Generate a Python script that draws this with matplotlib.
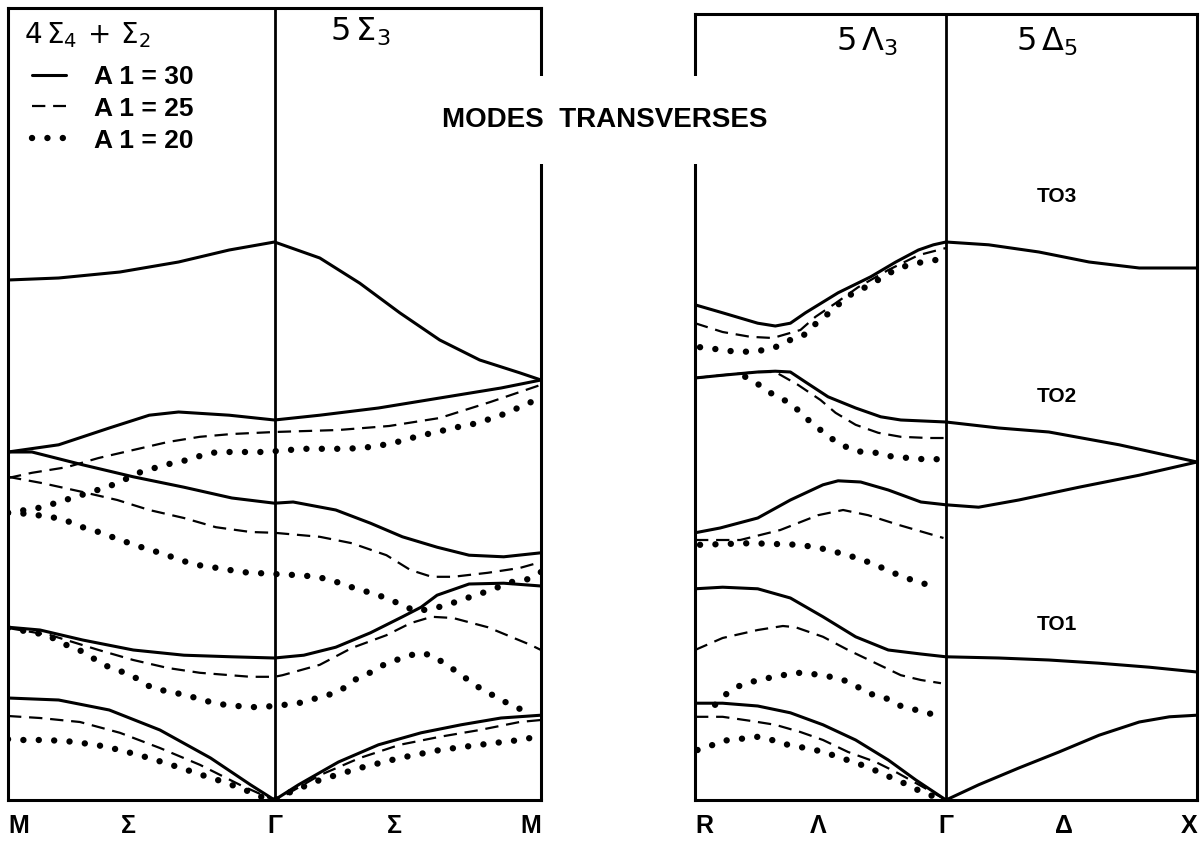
import matplotlib
matplotlib.use("Agg")
import matplotlib.pyplot as plt
from matplotlib.lines import Line2D

plt.rcParams['font.family'] = ['Liberation Sans', 'DejaVu Sans']

# frequency (arb. units) along the path, q = 0..1 first half, 1..2 second half
# ---- left panel : M - Sigma - Gamma - Sigma - M
sig_a30 = [
    ([0, .19, .42, .64, .83, 1.0, 1.17, 1.32, 1.47, 1.62, 1.77, 1.92, 2.0],
     [65.0, 65.25, 66.0, 67.25, 68.75, 69.75, 67.75, 64.6, 60.9, 57.5, 55.0, 53.4, 52.5]),
    ([0, .19, .38, .53, .64, .83, 1.0, 1.17, 1.39, 1.62, 1.85, 2.0],
     [43.5, 44.4, 46.5, 48.1, 48.5, 48.1, 47.5, 48.1, 49.0, 50.25, 51.5, 52.5]),
    ([0, .09, .28, .47, .66, .84, 1.0, 1.07, 1.23, 1.36, 1.48, 1.61, 1.73, 1.86, 2.0],
     [43.5, 43.5, 41.9, 40.4, 39.1, 37.75, 37.1, 37.25, 36.25, 34.6, 32.9, 31.6, 30.6, 30.4, 30.9]),
    ([0, .12, .28, .47, .66, .84, 1.0, 1.11, 1.23, 1.36, 1.48, 1.55, 1.61, 1.73, 1.86, 2.0],
     [21.6, 21.25, 20.0, 18.75, 18.1, 17.9, 17.75, 18.1, 19.1, 20.9, 22.9, 24.1, 25.6, 27.0, 27.1, 26.75]),
    ([0, .19, .38, .57, .76, .91, 1.0, 1.09, 1.24, 1.39, 1.55, 1.70, 1.85, 2.0],
     [12.75, 12.5, 11.25, 8.75, 5.25, 1.9, 0, 1.9, 4.75, 6.9, 8.4, 9.4, 10.25, 10.6]),
]
sig_a25 = [
    ([0, .09, .22, .34, .47, .60, .72, .84, 1.0, 1.24, 1.43, 1.62, 1.81, 2.0],
     [40.25, 40.9, 41.6, 42.75, 43.75, 44.75, 45.4, 45.75, 46.0, 46.25, 46.75, 47.75, 49.75, 51.9]),
    ([0, .13, .28, .41, .53, .66, .78, .91, 1.0, 1.17, 1.29, 1.42, 1.51, 1.59, 1.67, 1.80, 1.92, 2.0],
     [40.4, 39.6, 38.5, 37.5, 36.25, 35.25, 34.1, 33.5, 33.4, 32.9, 32.1, 30.6, 28.75, 27.9, 27.9, 28.4, 29.0, 29.75]),
    ([0, .16, .34, .47, .60, .72, .91, 1.0, 1.03, 1.17, 1.29, 1.42, 1.51, 1.59, 1.67, 1.80, 1.96, 2.0],
     [21.5, 20.6, 18.75, 17.5, 16.5, 15.9, 15.4, 15.4, 15.6, 16.9, 19.0, 20.6, 22.1, 22.9, 22.75, 21.6, 19.4, 18.75]),
    ([0, .12, .27, .42, .57, .72, .87, .98, 1.0, 1.04, 1.17, 1.32, 1.47, 1.62, 1.77, 1.92, 2.0],
     [10.5, 10.25, 9.75, 8.4, 6.5, 4.4, 1.9, 0.25, 0, 0.6, 3.1, 5.25, 6.9, 7.9, 8.75, 9.75, 10.0]),
]
sig_a20 = [
    ([0, .13, .19, .24, .36, .41, .49, .54, .59, .66, .72, .76, .83, .90, .96, 1.0,
      1.11, 1.26, 1.33, 1.41, 1.48, 1.54, 1.61, 1.67, 1.76, 1.85, 1.92, 1.98],
     [35.9, 36.6, 37.25, 37.75, 39.0, 39.6, 40.9, 41.4, 41.9, 42.4, 43.0, 43.4, 43.5, 43.5, 43.5, 43.6,
      43.9, 43.9, 44.0, 44.4, 44.9, 45.5, 46.0, 46.5, 47.1, 48.1, 49.1, 50.0]),
    ([0, .06, .16, .22, .28, .34, .43, .51, .57, .67, .73, .81, .87, .92, 1.0,
      1.09, 1.16, 1.22, 1.29, 1.36, 1.42, 1.47, 1.53, 1.59, 1.65, 1.70, 1.80, 1.89, 1.95, 2.0],
     [35.9, 35.8, 35.4, 34.9, 34.1, 33.5, 32.4, 31.5, 30.9, 29.75, 29.25, 28.9, 28.5, 28.4, 28.25,
      28.1, 27.9, 27.4, 26.6, 25.9, 25.25, 24.5, 23.6, 23.9, 24.4, 25.0, 26.1, 27.25, 27.6, 28.5]),
    ([0, .15, .20, .26, .31, .37, .43, .49, .54, .61, .67, .73, .79, .86, .93, 1.0,
      1.09, 1.16, 1.24, 1.30, 1.37, 1.42, 1.48, 1.54, 1.59, 1.66, 1.71, 1.77, 1.83, 1.88, 1.94],
     [21.5, 20.6, 19.6, 18.9, 17.9, 16.75, 16.0, 15.1, 14.0, 13.5, 13.1, 12.5, 12.0, 11.75, 11.6, 11.75,
      12.1, 12.75, 13.5, 15.0, 16.1, 17.1, 17.75, 18.4, 18.1, 16.6, 15.4, 14.0, 12.9, 12.0, 11.1]),
    ([0, .03, .12, .21, .33, .42, .53, .64, .73, .81, .89, .95, 1.0,
      1.06, 1.17, 1.32, 1.47, 1.62, 1.77, 1.92, 1.96],
     [7.6, 7.5, 7.5, 7.4, 6.9, 6.25, 5.25, 4.1, 3.1, 2.25, 1.25, 0.4, 0,
      1.0, 2.5, 4.0, 5.25, 6.25, 6.9, 7.5, 7.75]),
]

# ---- right panel : R - Lambda - Gamma - Delta - X
lam_a30 = [
    ([0, .11, .25, .32, .38, .44, .57, .70, .80, .89, .95, 1.0, 1.17, 1.37, 1.57, 1.77, 2.0],
     [61.9, 60.9, 59.6, 59.25, 59.6, 60.9, 63.4, 65.4, 67.25, 68.75, 69.4, 69.75, 69.4, 68.5, 67.25, 66.5, 66.5]),
    ([0, .11, .25, .32, .38, .44, .53, .64, .74, .82, 1.0, 1.21, 1.41, 1.69, 2.0],
     [52.75, 53.1, 53.5, 53.6, 53.5, 52.25, 50.4, 49.0, 47.9, 47.5, 47.25, 46.5, 46.0, 44.4, 42.25]),
    ([0, .10, .25, .38, .51, .57, .66, .77, .90, 1.0, 1.13, 1.29, 1.53, 1.77, 2.0],
     [33.4, 34.0, 35.25, 37.5, 39.4, 39.9, 39.75, 38.75, 37.25, 36.9, 36.6, 37.5, 39.1, 40.6, 42.25]),
    ([0, .11, .25, .38, .51, .64, .77, .90, 1.0, 1.21, 1.41, 1.61, 1.81, 2.0],
     [26.4, 26.6, 26.4, 25.25, 22.9, 20.4, 18.75, 18.25, 17.9, 17.75, 17.5, 17.1, 16.6, 16.0]),
    ([0, .11, .25, .38, .51, .64, .77, .88, 1.0, 1.13, 1.29, 1.45, 1.61, 1.77, 1.89, 2.0],
     [12.1, 12.1, 11.75, 10.9, 9.4, 7.5, 5.0, 2.5, 0, 1.9, 4.0, 6.0, 8.1, 9.75, 10.4, 10.6]),
]
lam_a25 = [
    ([0, .11, .22, .31, .42, .48, .56, .65, .77, .89, 1.0],
     [59.6, 58.5, 57.9, 57.75, 58.75, 60.4, 62.1, 64.1, 66.25, 68.1, 69.0]),
    ([0, .11, .25, .32, .41, .50, .56, .64, .73, .82, .93, 1.0],
     [52.75, 53.1, 53.5, 53.5, 51.9, 50.0, 48.4, 46.9, 45.9, 45.4, 45.25, 45.25]),
    ([0, .18, .34, .49, .59, .69, .81, .99],
     [32.5, 32.5, 33.75, 35.6, 36.25, 35.6, 34.4, 32.75]),
    ([0, .11, .25, .35, .40, .51, .61, .72, .82, .90, .98],
     [18.75, 20.25, 21.25, 21.75, 21.6, 20.4, 18.75, 17.1, 15.6, 15.0, 14.6]),
    ([0, .11, .22, .32, .42, .51, .61, .72, .80, .91, 1.0],
     [10.4, 10.4, 9.9, 9.4, 8.5, 7.5, 6.0, 4.75, 3.5, 1.6, 0]),
]
lam_a20 = [
    ([.02, .05, .11, .17, .25, .32, .37, .43, .47, .52, .57, .63, .69, .75, .81, .87, .93, .99],
     [56.6, 56.5, 56.25, 56.0, 56.1, 56.6, 57.4, 58.0, 59.25, 60.5, 61.9, 63.4, 64.25, 65.4, 66.5, 67.0, 67.4, 67.6]),
    ([.20, .25, .30, .37, .41, .46, .52, .57, .64, .72, .77, .85, .91, .98],
     [52.9, 52.0, 50.9, 49.75, 48.75, 47.25, 45.75, 44.6, 43.6, 43.4, 43.0, 42.75, 42.6, 42.6]),
    ([.02, .12, .22, .32, .42, .51, .61, .69, .74, .79, .84, .91, .96],
     [31.9, 32.0, 32.1, 32.0, 31.9, 31.4, 30.6, 29.75, 29.1, 28.4, 27.75, 27.1, 26.25]),
    ([.08, .13, .19, .27, .33, .41, .47, .54, .60, .65, .70, .75, .82, .90, .96],
     [11.9, 13.4, 14.5, 15.1, 15.5, 15.9, 15.75, 15.4, 14.9, 14.1, 13.25, 12.9, 11.75, 11.1, 10.6]),
    ([.01, .06, .11, .17, .25, .32, .37, .44, .50, .57, .63, .69, .76, .84, .91, .97],
     [6.25, 6.75, 7.4, 7.6, 7.9, 7.4, 6.9, 6.5, 6.1, 5.4, 4.75, 4.1, 3.1, 2.0, 0.9, 0.25]),
]

left_ticks = [0, 0.45, 1, 1.45, 2]
left_labels = ["M", "Σ", "Γ", "Σ", "M"]
right_ticks = [0, 0.49, 1, 1.47, 2]
right_labels = ["R", "Λ", "Γ", "Δ", "X"]
to_labels = ["TO3", "TO2", "TO1"]
to_freq = [75.5, 50.5, 22.0]
legend_labels = ["A 1 = 30", "A 1 = 25", "A 1 = 20"]

solid = dict(color="black", lw=2.2, ls="-", solid_capstyle="round", solid_joinstyle="round")
dashed = dict(color="black", lw=1.6, ls=(0, (6, 3.5)), dash_capstyle="butt")
dotted = dict(color="black", lw=4.6, ls=(0, (0.01, 2.4)), dash_capstyle="round")


def draw_panel(ax, s30, s25, s20, ymax, ticks, labels):
    for q, f in s30:
        ax.plot(q, f, **solid)
    for q, f in s25:
        ax.plot(q, f, **dashed)
    for q, f in s20:
        ax.plot(q, f, **dotted)
    ax.axvline(1.0, color="black", lw=2.0)
    ax.set_xlim(0, 2)
    ax.set_ylim(0, ymax)
    ax.set_yticks([])
    ax.set_xticks(ticks)
    ax.set_xticklabels(labels, fontsize=18, fontweight="bold")
    ax.tick_params(axis="x", length=0, pad=10)
    tl = ax.get_xticklabels()
    tl[0].set_ha("left")
    tl[-1].set_ha("right")
    for sp in ax.spines.values():
        sp.set_linewidth(2.2)


fig = plt.figure(figsize=(12.03, 8.43), dpi=100)
axl = fig.add_axes([8 / 1203, 43 / 843, 533 / 1203, 792 / 843])
axr = fig.add_axes([695 / 1203, 43 / 843, 502 / 1203, 786 / 843])

draw_panel(axl, sig_a30, sig_a25, sig_a20, 99.0, left_ticks, left_labels)
draw_panel(axr, lam_a30, lam_a25, lam_a20, 98.25, right_ticks, right_labels)

# branch titles
axl.text(0.03, 0.985, r"$4\,\Sigma_4\,+\,\Sigma_2$", transform=axl.transAxes,
         fontsize=20, va="top", ha="left")
axl.text(0.605, 0.99, r"$5\,\Sigma_3$", transform=axl.transAxes,
         fontsize=23, va="top", ha="left")
axr.text(0.28, 0.985, r"$5\,\Lambda_3$", transform=axr.transAxes,
         fontsize=23, va="top", ha="left")
axr.text(0.64, 0.985, r"$5\,\Delta_5$", transform=axr.transAxes,
         fontsize=23, va="top", ha="left")

for lab, f in zip(to_labels, to_freq):
    axr.text(1.44, f, lab, fontsize=15, fontweight="bold", ha="center", va="center")

handles = [Line2D([], [], **solid), Line2D([], [], **dashed), Line2D([], [], **dotted)]
leg = axl.legend(handles, legend_labels, loc="upper left", bbox_to_anchor=(0.02, 0.945),
                 frameon=False, handlelength=1.3, handletextpad=1.05, labelspacing=0.3,
                 borderpad=0.0, prop=dict(size=19, weight="bold"))

fig.text(605 / 1203, 1 - 120 / 843, "MODES  TRANSVERSES", fontsize=20, fontweight="bold",
         ha="center", va="center", zorder=10,
         bbox=dict(boxstyle="square,pad=1.1", fc="white", ec="none"))

fig.savefig("out.png", dpi=100)
